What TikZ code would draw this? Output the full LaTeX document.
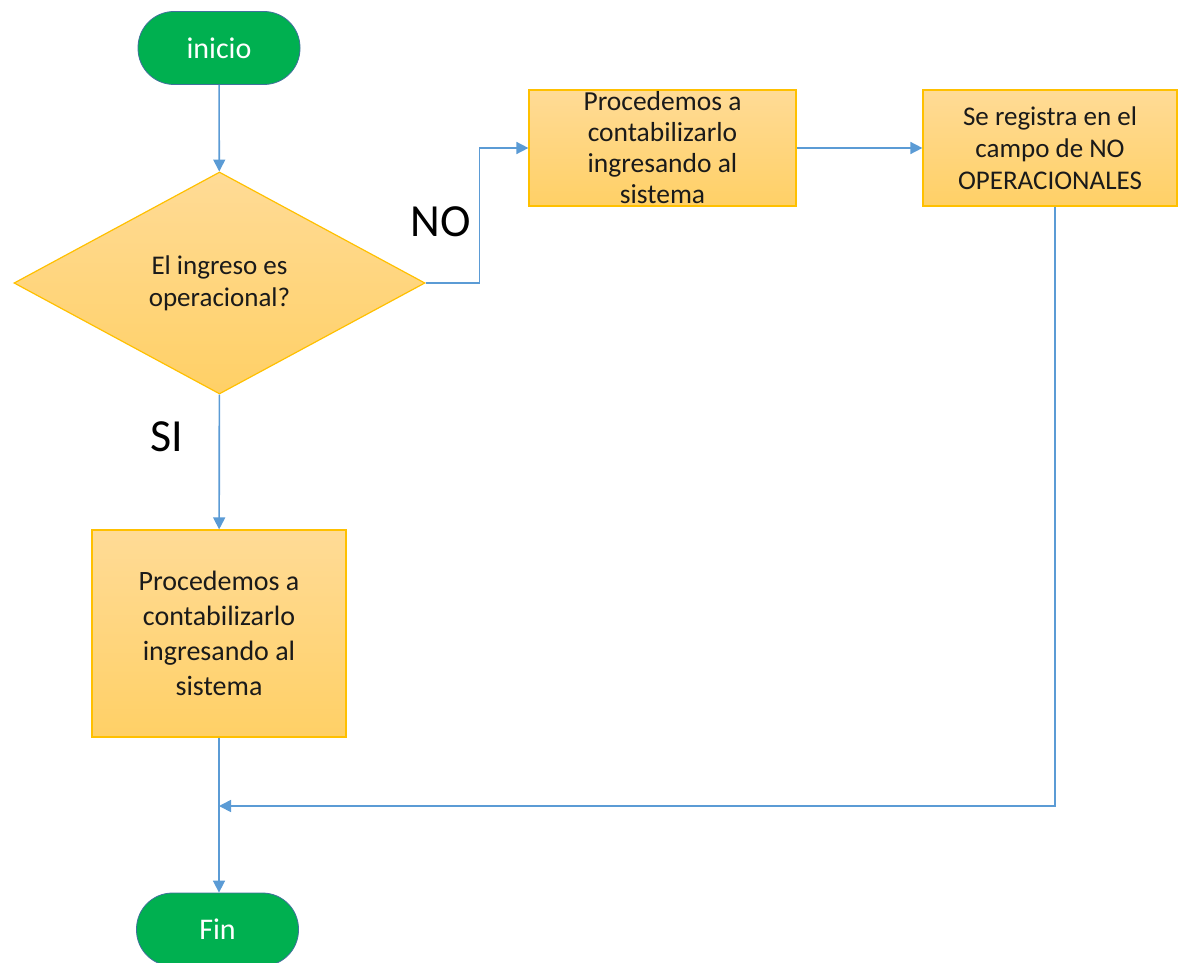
\documentclass[tikz,border=0pt]{standalone}
\usepackage{fontspec}
\setmainfont{Carlito}
\usetikzlibrary{shapes.geometric,arrows.meta,calc}
\definecolor{termgreen}{HTML}{00B050}
\definecolor{termborder}{HTML}{41719C}
\definecolor{arrowblue}{HTML}{5B9BD5}
\definecolor{boxborder}{HTML}{FFC000}
\definecolor{boxtop}{HTML}{FFDB96}
\definecolor{boxbot}{HTML}{FFD066}
\definecolor{txt}{HTML}{1A1A1A}
\tikzset{
  terminal/.style={draw=termborder, line width=0.8pt, fill=termgreen, rounded corners=36pt,
    minimum width=162pt, minimum height=73pt, inner sep=0pt, text=white, font=\fontsize{30}{34}\selectfont},
  procbox/.style={draw=boxborder, line width=1.2pt, top color=boxtop, bottom color=boxbot,
    inner sep=0pt, align=center, text=txt},
  decision/.style={diamond, draw=boxborder, line width=1.2pt, top color=boxtop, bottom color=boxbot,
    minimum width=411pt, minimum height=222pt, inner sep=0pt, aspect=1.85, align=center, text=txt,
    font=\fontsize{27}{32}\selectfont},
  arr/.style={draw=arrowblue, line width=1.6pt, -{Triangle[width=12pt,length=12pt]}},
  bigtxt/.style={font=\fontsize{46}{50}\selectfont, text=black, inner sep=0pt}
}
\begin{document}
\begin{tikzpicture}[x=1pt,y=-1pt]
\useasboundingbox (0,0) rectangle (1178,963);
\clip (0,0) rectangle (1178,963);
\node[terminal] (inicio) at (219,48) {inicio};
\node[decision] (dec) at (219.5,283) {El ingreso es\\operacional?};
\node[procbox, minimum width=267pt, minimum height=116pt, font=\fontsize{27.5}{31}\selectfont] (b2) at (662.5,148) {Procedemos a\\contabilizarlo\\ingresando al\\sistema};
\node[procbox, minimum width=254pt, minimum height=116pt, font=\fontsize{27}{32}\selectfont] (b3) at (1050,148) {Se registra en el\\campo de NO\\OPERACIONALES};
\node[procbox, minimum width=254pt, minimum height=207pt, font=\fontsize{28}{35}\selectfont] (b1) at (219,633.5) {Procedemos a\\contabilizarlo\\ingresando al\\sistema};
\node[terminal] (fin) at (217.5,929.5) {Fin};
\node[bigtxt] (no) at (441,222) {NO};
\node[bigtxt] (si) at (167,437) {SI};
\coordinate (m) at (219,806);
\draw[arr] (inicio) -- (dec);
\draw[arr] (dec.east) -- ++(54,0) |- (b2.west);
\draw[arr] (b2) -- (b3);
\draw[arr] (dec) -- (b1);
\draw[arr] (b1.south) -- (b1.south |- fin.north);
\draw[arr] ([xshift=5pt]b3.south) |- (m);
\end{tikzpicture}
\end{document}
